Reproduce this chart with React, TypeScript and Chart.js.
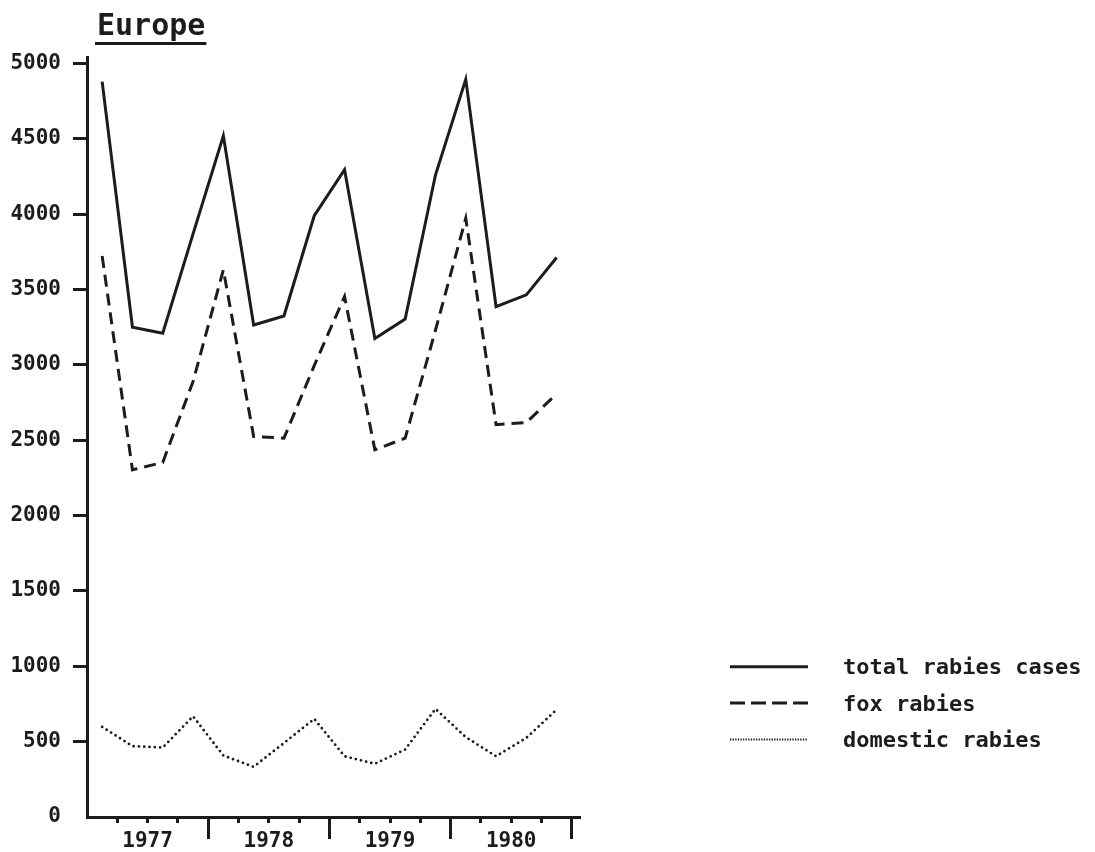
import React, { useEffect, useRef } from 'react';
import { Chart, registerables } from 'chart.js';

Chart.register(...registerables);

// ---------- data ----------
const chartTitle = 'Europe';
const quarters = [
  '1977 Q1', '1977 Q2', '1977 Q3', '1977 Q4',
  '1978 Q1', '1978 Q2', '1978 Q3', '1978 Q4',
  '1979 Q1', '1979 Q2', '1979 Q3', '1979 Q4',
  '1980 Q1', '1980 Q2', '1980 Q3', '1980 Q4',
];
const yearLabels = ['1977', '1978', '1979', '1980'];
const seriesNames = ['total rabies cases', 'fox rabies', 'domestic rabies'];
const totalRabies = [4880, 3250, 3210, 3870, 4520, 3265, 3325, 3990, 4295, 3175, 3305, 4260, 4895, 3387, 3465, 3713];
const foxRabies = [3723, 2304, 2353, 2890, 3631, 2525, 2514, 2996, 3454, 2437, 2514, 3230, 3973, 2603, 2618, 2808];
const domesticRabies = [598, 470, 461, 668, 408, 333, 491, 651, 403, 353, 448, 717, 530, 403, 525, 713];
const yTickValues = [0, 500, 1000, 1500, 2000, 2500, 3000, 3500, 4000, 4500, 5000];

// ---------- styles ----------
const INK = '#1c1c1c';
const FONT = '"DejaVu Sans Mono", monospace';
const legendDashes: number[][] = [[], [15, 6], [1.3, 1.3]];
const legendWidths = [3, 3, 2.2];

const toPoints = (values: number[]) => values.map((v, i) => ({ x: i + 0.5, y: v }));

const decorPlugin = {
  id: 'decor',
  afterDraw(chart: any) {
    const { ctx, chartArea } = chart;
    ctx.save();
    // title with underline
    ctx.fillStyle = INK;
    ctx.strokeStyle = INK;
    ctx.font = `bold 30px ${FONT}`;
    ctx.textBaseline = 'alphabetic';
    ctx.textAlign = 'left';
    const tx = chartArea.left + 10;
    ctx.fillText(chartTitle, tx, 35);
    const tw = ctx.measureText(chartTitle).width;
    ctx.lineWidth = 3;
    ctx.setLineDash([]);
    ctx.beginPath();
    ctx.moveTo(tx - 2, 43.5);
    ctx.lineTo(tx + tw + 1, 43.5);
    ctx.stroke();

    // legend
    const lineStart = chartArea.right + 150;
    const lineEnd = lineStart + 78;
    const textX = lineEnd + 35;
    const firstY = 666.7;
    const pitch = 36.4;
    ctx.font = `bold 22px ${FONT}`;
    chart.data.datasets.forEach((ds: any, i: number) => {
      const y = firstY + i * pitch;
      ctx.setLineDash(legendDashes[i]);
      ctx.lineWidth = legendWidths[i];
      ctx.lineCap = 'butt';
      ctx.beginPath();
      ctx.moveTo(lineStart, y);
      ctx.lineTo(lineEnd, y);
      ctx.stroke();
      ctx.setLineDash([]);
      ctx.fillText(ds.label, textX, y + 7.5);
    });
    ctx.restore();
  },
};

export default function App() {
  const canvasRef = useRef<HTMLCanvasElement | null>(null);

  useEffect(() => {
    const canvas = canvasRef.current;
    if (!canvas) return;
    const tickFont = { family: FONT, size: 21, weight: 'bold' as const, lineHeight: 1 };
    const chart = new Chart(canvas, {
      type: 'line',
      data: {
        datasets: [
          {
            label: seriesNames[0],
            data: toPoints(totalRabies),
            borderColor: INK,
            borderWidth: 3,
            pointRadius: 0,
            tension: 0,
          },
          {
            label: seriesNames[1],
            data: toPoints(foxRabies),
            borderColor: INK,
            borderWidth: 3,
            borderDash: [12, 7],
            pointRadius: 0,
            tension: 0,
          },
          {
            label: seriesNames[2],
            data: toPoints(domesticRabies),
            borderColor: INK,
            borderWidth: 2.8,
            borderDash: [0, 5.3],
            borderCapStyle: 'round',
            pointRadius: 0,
            tension: 0,
          },
        ],
      },
      options: {
        animation: false,
        responsive: false,
        layout: { padding: { left: 10, top: 57.5, right: 515, bottom: 0 } },
        plugins: {
          legend: { display: false },
          title: { display: false },
          tooltip: { enabled: false },
        },
        scales: {
          xMajor: {
            axis: 'x',
            type: 'linear',
            position: 'bottom',
            weight: 0,
            min: 0,
            max: quarters.length + 0.27,
            afterBuildTicks: (scale: any) => {
              scale.ticks = yearLabels.map((_, i) => ({ value: (i + 1) * 4 }));
            },
            afterFit: (scale: any) => {
              scale.height = 0;
            },
            grid: {
              drawOnChartArea: false,
              drawTicks: true,
              tickLength: 22,
              tickWidth: 3,
              tickColor: INK,
            },
            border: { display: true, width: 3, color: INK },
            ticks: { display: false },
          },
          x: {
            type: 'linear',
            position: 'bottom',
            weight: 1,
            min: 0,
            max: quarters.length + 0.27,
            afterBuildTicks: (scale: any) => {
              scale.ticks = quarters.map((_, i) => ({ value: i + 1 }));
            },
            afterFit: (scale: any) => {
              scale.height = 35;
            },
            grid: {
              drawOnChartArea: false,
              drawTicks: true,
              tickLength: 6,
              tickWidth: 3,
              tickColor: INK,
            },
            border: { display: false },
            ticks: {
              autoSkip: false,
              maxRotation: 0,
              padding: 8,
              color: INK,
              font: tickFont,
              callback: (value: any) => {
                const v = Number(value);
                return v % 4 === 2 ? yearLabels[(v - 2) / 4] : '';
              },
            },
          },
          y: {
            type: 'linear',
            position: 'left',
            min: 0,
            max: 5040,
            afterBuildTicks: (scale: any) => {
              scale.ticks = yTickValues.map((v) => ({ value: v }));
            },
            afterFit: (scale: any) => {
              scale.width = 77;
            },
            grid: {
              drawOnChartArea: false,
              drawTicks: true,
              tickLength: 14,
              tickWidth: 3,
              tickColor: (c: any) => (c.tick && c.tick.value === 0 ? 'rgba(0,0,0,0)' : INK),
            },
            border: { display: true, width: 3, color: INK },
            ticks: {
              padding: 12,
              color: INK,
              font: tickFont,
              callback: (value: any) => String(value),
            },
          },
        },
      },
      plugins: [decorPlugin],
    } as any);
    return () => chart.destroy();
  }, []);

  return (
    <canvas
      ref={canvasRef}
      width={1095}
      height={852}
      style={{ position: 'fixed', left: 0, top: 0, width: 1095, height: 852 }}
    />
  );
}
